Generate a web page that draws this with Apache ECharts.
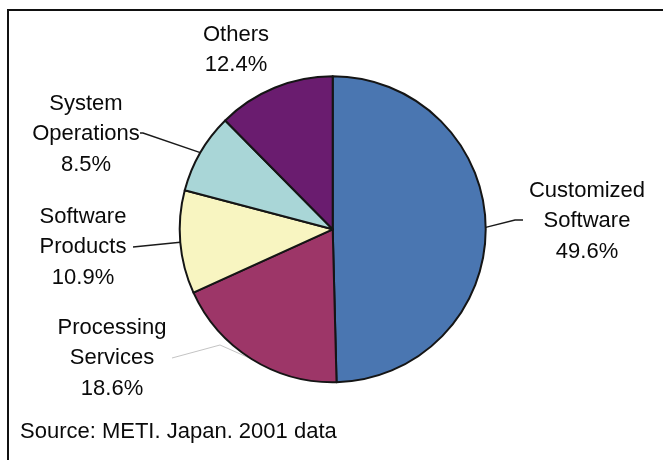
<!DOCTYPE html>
<html>
<head>
<meta charset="utf-8">
<script src="https://cdn.jsdelivr.net/npm/echarts@6/dist/echarts.min.js"></script>
<style>
  html, body { margin: 0; padding: 0; background: #fff; }
  #chart { width: 663px; height: 460px; }
</style>
</head>
<body>
<div id="chart"></div>
<script>
// Shares of the Japanese software/IT services market (per cent)
const categories = ['Customized\nSoftware', 'Processing\nServices', 'Software\nProducts', 'System\nOperations', 'Others'];
const shares = [49.6, 18.6, 10.9, 8.5, 12.4];
const sliceColors = ['#4a76b1', '#9d3668', '#f8f5c1', '#a9d6d7', '#6a1c6f'];
const sourceNote = 'Source: METI. Japan. 2001 data';

// Where each label block sits (centre) and how its leader line runs
const labelSpots = [
  { x: 587, y: 221, bend: [515, 220], end: [523, 220] },
  { x: 112, y: 358, bend: [220, 345], end: [172, 358], faint: true },
  { x: 83,  y: 247, bend: null,       end: [133, 247] },
  { x: 86,  y: 134, bend: [143, 133], end: [140, 133] },
  { x: 236, y: 50,  hideLine: true }
];

const chart = echarts.init(document.getElementById('chart'), null, { renderer: 'canvas' });

const pieData = categories.map((name, i) => ({
  name: name,
  value: shares[i],
  itemStyle: { color: sliceColors[i] },
  labelLine: labelSpots[i].hideLine
    ? { show: false }
    : { show: true, lineStyle: labelSpots[i].faint ? { color: '#c4c4c4', width: 1 } : { color: '#1a1a1a', width: 1.5 } }
}));

chart.setOption({
  animation: false,
  backgroundColor: '#fff',
  title: {
    text: sourceNote,
    left: 20,
    top: 420,
    padding: 0,
    textStyle: {
      fontFamily: 'Liberation Sans, Arial, sans-serif',
      fontSize: 22,
      fontWeight: 'normal',
      color: '#0a0a0a',
      lineHeight: 24
    }
  },
  graphic: [{
    type: 'rect',
    silent: true,
    shape: { x: 8, y: 10, width: 700, height: 520 },
    style: { fill: 'none', stroke: '#111', lineWidth: 2 }
  }],
  series: [{
    type: 'pie',
    center: [332.7, 229.3],
    radius: 153,
    startAngle: 90,
    clockwise: true,
    itemStyle: { borderColor: '#151515', borderWidth: 2 },
    label: {
      show: true,
      position: 'outside',
      formatter: p => p.name + '\n' + p.value.toFixed(1) + '%',
      fontFamily: 'Liberation Sans, Arial, sans-serif',
      fontSize: 22,
      lineHeight: 30.5,
      color: '#0a0a0a',
      align: 'center'
    },
    labelLine: { show: true, length: 20, length2: 10 },
    labelLayout: function (params) {
      const spot = labelSpots[params.dataIndex];
      const out = { x: spot.x, y: spot.y, align: 'center', verticalAlign: 'middle' };
      if (!spot.hideLine && params.labelLinePoints) {
        const start = params.labelLinePoints[0];
        const bend = spot.bend || start;
        out.labelLinePoints = [start, bend, spot.end];
      }
      return out;
    },
    data: pieData
  }]
});
</script>
</body>
</html>
